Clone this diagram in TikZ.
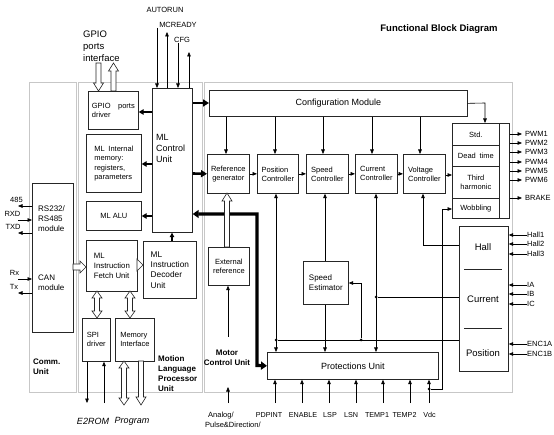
\documentclass[tikz,border=0pt]{standalone}
\usepackage{fontspec}
\setmainfont{Liberation Sans}
\usetikzlibrary{arrows.meta}
\newcommand\szS{\fontsize{7.5}{9}\selectfont}
\newcommand\szT{\fontsize{8}{10}\selectfont}
\newcommand\szM{\fontsize{9}{11}\selectfont}
\newcommand\szL{\fontsize{9.5}{12}\selectfont}
\newcommand\hollowUp[3]{\draw[hol] (#1-2.5,#2) -- (#1-2.5,#3+8) -- (#1-5,#3+8) -- (#1,#3) -- (#1+5,#3+8) -- (#1+2.5,#3+8) -- (#1+2.5,#2) -- cycle;}
\newcommand\hollowDown[3]{\draw[hol] (#1-2.5,#2) -- (#1-2.5,#3-8) -- (#1-5,#3-8) -- (#1,#3) -- (#1+5,#3-8) -- (#1+2.5,#3-8) -- (#1+2.5,#2) -- cycle;}
\newcommand\hollowBoth[3]{\draw[hol] (#1,#2) -- (#1+5,#2+7) -- (#1+2.5,#2+7) -- (#1+2.5,#3-7) -- (#1+5,#3-7) -- (#1,#3) -- (#1-5,#3-7) -- (#1-2.5,#3-7) -- (#1-2.5,#2+7) -- (#1-5,#2+7) -- cycle;}
\newcommand\hollowRight[3]{\draw[hol] (#2,#1-3) -- (#3-6,#1-3) -- (#3-6,#1-6) -- (#3,#1) -- (#3-6,#1+6) -- (#3-6,#1+3) -- (#2,#1+3) -- cycle;}
\begin{document}
\begin{tikzpicture}[x=1pt,y=-1pt,
 box/.style={draw=black!85, line width=0.7pt, inner sep=0pt, anchor=north west, align=center, font=\szS},
 panel/.style={draw=black!22, line width=0.9pt, inner sep=0pt, anchor=north west},
 txt/.style={inner sep=0pt, font=\szS, align=left},
 arr/.style={line width=0.6pt, -{Triangle[length=4.5pt,width=3.6pt]}},
 darr/.style={line width=0.6pt, {Triangle[length=4.5pt,width=3.6pt]}-{Triangle[length=4.5pt,width=3.6pt]}},
 medarr/.style={line width=1.8pt, -{Triangle[length=5pt,width=5.5pt]}},
 thkarr/.style={line width=2.6pt, -{Triangle[length=6pt,width=7pt]}},
 bigarr/.style={line width=3.2pt, {Triangle[length=6pt,width=8pt]}-{Triangle[length=6pt,width=8pt]}},
 hol/.style={draw=black!85, line width=0.6pt, fill=white},
 dot/.style={circle, fill, inner sep=0pt, minimum size=3pt}]
\useasboundingbox (0,0) rectangle (554,435);

% panels
\node[panel, minimum width=47pt, minimum height=310pt] (commP) at (29,82) {};
\node[panel, minimum width=124pt, minimum height=310pt] (mlpP) at (78,82) {};
\node[panel, minimum width=308pt, minimum height=310pt] (motP) at (204,82) {};

% title and free texts
\node[inner sep=0pt, font=\bfseries\szL] (title) at (439,29) {Functional Block Diagram};
\node[txt, font=\szL, align=left, anchor=west] (gpiotxt) at (83,46) {GPIO\\ports\\interface};
\node[txt, font=\bfseries\szT, anchor=west] (commtxt) at (33,366.5) {Comm.\\Unit};
\node[txt, font=\bfseries\szT, anchor=west, align=left] (mlptxt) at (158,373.5) {Motion\\Language\\Processor\\Unit};
\node[txt, font=\bfseries\szT, align=center] (mottxt) at (227,357.5) {Motor\\Control Unit};
\node[txt, font=\itshape\szM] (e2txt) at (93,421) {E2ROM};
\node[txt, font=\itshape\szM] (progtxt) at (132,421) {Program};

% MLP boxes
\node[box, minimum width=50pt, minimum height=38pt, align=left] (gpio) at (88,91) {GPIO\quad ports\\driver};
\node[box, minimum width=40pt, minimum height=144pt] (mlc) at (152,88) {};
\node[txt, font=\szM, anchor=west] (mlctxt) at (156,148) {ML\\Control\\Unit};
\node[box, minimum width=55pt, minimum height=58pt, align=left, font=\fontsize{7.5}{9.5}\selectfont] (mem) at (86,134) {ML\enspace Internal\\memory:\\registers,\\parameters};
\node[box, minimum width=55pt, minimum height=29pt] (alu) at (86,201) {ML ALU};
\node[box, minimum width=51pt, minimum height=51pt, align=left, font=\fontsize{7.8}{9.6}\selectfont] (fetch) at (86,240) {ML\\Instruction\\Fetch Unit};
\node[box, minimum width=53pt, minimum height=57pt, align=left, font=\fontsize{8.3}{10.3}\selectfont] (dec) at (143,241) {ML\\Instruction\\Decoder\\Unit};
\node[box, minimum width=28pt, minimum height=43pt, align=left] (spi) at (82,318) {SPI\\driver};
\node[box, minimum width=39pt, minimum height=43pt, align=left] (memif) at (115,318) {Memory\\Interface};

% comm box
\node[box, minimum width=41pt, minimum height=149pt] (rs) at (32,183) {};
\node[txt, font=\szT, anchor=west] (rstxt) at (38,218.5) {RS232/\\RS485\\module};
\node[txt, font=\szT, anchor=west] (cantxt) at (38,283) {CAN\\module};

% motor control boxes
\node[box, minimum width=258pt, minimum height=26pt, font=\szM] (cfg) at (209,90) {Configuration Module};
\node[box, minimum width=42pt, minimum height=39pt] (ref) at (207,154) {Reference\\generator};
\node[box, minimum width=41pt, minimum height=39pt, align=left] (pos) at (257,154) {Position\\Controller};
\node[box, minimum width=42pt, minimum height=39pt, align=left] (spd) at (306,154) {Speed\\Controller};
\node[box, minimum width=42pt, minimum height=39pt, align=left] (cur) at (355,154) {Current\\Controller};
\node[box, minimum width=42pt, minimum height=39pt, align=left] (vol) at (403,154) {Voltage\\Controller};
\node[box, minimum width=47pt, minimum height=22pt] (std) at (452,123) {Std.};
\node[box, minimum width=47pt, minimum height=21pt] (dead) at (452,145) {Dead\enspace time};
\node[box, minimum width=47pt, minimum height=32pt] (third) at (452,166) {Third\\harmonic};
\node[box, minimum width=47pt, minimum height=20pt] (wobb) at (452,198) {Wobbling};
\node[box, minimum width=10pt, minimum height=95pt] (pwmcol) at (499,123) {};
\node[box, minimum width=49pt, minimum height=145pt] (sens) at (459,226) {};
\draw[line width=0.7pt, black!85] (464,269) -- (502,269);
\draw[line width=0.7pt, black!85] (464,328) -- (502,328);
\node[txt, font=\szL] (halltxt) at (483,247) {Hall};
\node[txt, font=\szL] (curtxt) at (483,299) {Current};
\node[txt, font=\szL] (postxt) at (483,353) {Position};
\node[box, minimum width=41pt, minimum height=38pt] (ext) at (208,247) {External\\reference};
\node[box, minimum width=45pt, minimum height=43pt, align=left, font=\szT] (spe) at (303,261) {Speed\\Estimator};
\node[box, minimum width=171pt, minimum height=27pt, font=\szM] (prot) at (267,352) {Protections Unit};

% top signals of ML control unit
\coordinate (autoT) at (157,28);
\coordinate (mcrT) at (167,32);
\coordinate (cfgT) at (178,43);
\coordinate (extraT) at (189,52);
\node[txt] (autol) at (165,10) {AUTORUN};
\node[txt] (mcrl) at (178,25) {MCREADY};
\node[txt] (cfgl) at (182,40) {CFG};
\draw[arr] (autoT) -- (autoT |- mlc.north);
\draw[arr] (mcrT |- mlc.north) -- (mcrT);
\draw[arr] (cfgT) -- (cfgT |- mlc.north);
\draw[arr] (extraT |- mlc.north) -- (extraT);

% GPIO hollow arrows
\hollowDown{98.5}{63}{91}
\hollowUp{113.5}{91}{63}

% ML control outputs
\draw[medarr] (mlc.west |- 0,112) -- (gpio.east |- 0,112);
\draw[medarr] (mlc.west |- 0,164) -- (mem.east |- 0,164);
\draw[medarr] (mlc.west |- 0,216) -- (alu.east |- 0,216);
\draw[thkarr] (mlc.east |- 0,103) -- (cfg.west |- 0,103);
\draw[thkarr] (mlc.east |- 0,173.5) -- (ref.west);
\draw[bigarr] (mlc.east |- 0,214) -- (257,214) -- (257,365.5) -- (prot.west);
\draw[line width=1.2pt, -{Triangle[length=4.5pt,width=4.5pt]}] (dec.north -| 172,0) -- (mlc.south -| 172,0);

% hollow arrows inside MLP and comm
\hollowRight{267}{73}{86}
\hollowRight{265}{137}{143}
\hollowBoth{97}{291}{318}
\hollowBoth{130}{291}{318}
\hollowBoth{124}{361}{405}
\hollowDown{141}{361}{405}

% SPI to E2ROM
\coordinate (e2out) at (87,403);
\coordinate (e2in) at (104,403);
\draw[arr] (spi.south -| e2out) -- (e2out);
\draw[arr] (e2in) -- (spi.south -| e2in);

% comm signals
\coordinate (s485) at (18,206);
\coordinate (srxd) at (18,220);
\coordinate (stxd) at (18,233);
\coordinate (srx) at (18,279);
\coordinate (stx) at (18,293);
\draw[arr] (rs.west |- s485) -- (s485);
\draw[arr] (srxd) -- (rs.west |- srxd);
\draw[arr] (rs.west |- stxd) -- (stxd);
\draw[arr] (srx) -- (rs.west |- srx);
\draw[arr] (rs.west |- stx) -- (stx);
\node[txt] (l485) at (16.5,200) {485};
\node[txt] (lrxd) at (12.5,214) {RXD};
\node[txt] (ltxd) at (13,227) {TXD};
\node[txt] (lrx) at (14.5,273) {Rx};
\node[txt] (ltx) at (14,286.5) {Tx};

% configuration module to controllers
\foreach \xx/\nn in {226/ref,275/pos,323/spd,372/cur,420/vol}
  \draw[arr] (cfg.south -| \xx,0) -- (\nn.north -| \xx,0);
\draw[arr] (cfg.east) -- (485,103) -- (std.north -| 485,0);

% controller chain
\draw[arr] (ref.east) -- (pos.west);
\draw[arr] (pos.east) -- (spd.west);
\draw[arr] (spd.east) -- (cur.west);
\draw[arr] (cur.east) -- (vol.west);
\draw[arr] (vol.east |- 0,175) -- (third.west |- 0,175);

% PWM outputs
\foreach \yy/\tt in {134/PWM1,143/PWM2,152/PWM3,162/PWM4,171/PWM5,180/PWM6,198/BRAKE}{
  \draw[arr] (pwmcol.east |- 0,\yy) -- (522,\yy);
  \node[txt, anchor=west] at (525,\yy) {\tt};
}

% sensor inputs
\foreach \yy/\tt in {235/Hall1,244/Hall2,254/Hall3,285/IA,294/IB,304/IC,344/ENC1A,354/ENC1B}{
  \draw[arr] (527,\yy) -- (sens.east |- 0,\yy);
  \node[txt, anchor=west] at (527,\yy) {\tt};
}

% sensor feedback lines
\draw[arr] (sens.west |- 0,245) -- (423,245) -- (vol.south -| 423,0);
\node[dot] (dcur) at (376,297) {};
\draw[line width=0.6pt] (sens.west |- dcur) -- (dcur);
\draw[darr] (cur.south -| dcur) -- (prot.north -| dcur);
\node[dot] (dpos) at (276,340) {};
\node[dot] (dspe) at (361,340) {};
\draw[line width=0.6pt] (sens.west |- dpos) -- (dpos);
\draw[darr] (pos.south -| dpos) -- (prot.north -| dpos);
\draw[arr] (dspe) -- (361,283) -- (spe.east |- 0,283);
\draw[arr] (spe.north -| 325,0) -- (spd.south -| 325,0);
\draw[arr] (spe.south -| 325,0) -- (prot.north -| 325,0);

% external reference
\hollowUp{227}{247}{193}
\coordinate (anaIn) at (228,403);
\draw[arr] (anaIn) -- (228,387);
\draw[arr] (228,337) -- (ext.south -| 228,0);
\node[txt, anchor=west] (lana) at (208,416) {Analog/};
\node[txt, anchor=west] (lpd) at (205,425) {Pulse\&Direction/};

% protections inputs
\foreach \xx/\lx/\tt in {275/269/PDPINT,302/303/ENABLE,329/330/LSP,356/351/LSN,383/377/TEMP1,410/404.5/TEMP2,429/429.5/Vdc}{
  \draw[arr] (\xx,403) -- (prot.south -| \xx,0);
  \node[txt, font=\fontsize{7.2}{9}\selectfont] at (\lx,415) {\tt};
}
\node[dot] (dvdc) at (429,389) {};
\draw[arr] (dvdc) -- (442,389) -- (442,209) -- (wobb.west |- 0,209);
\end{tikzpicture}
\end{document}
